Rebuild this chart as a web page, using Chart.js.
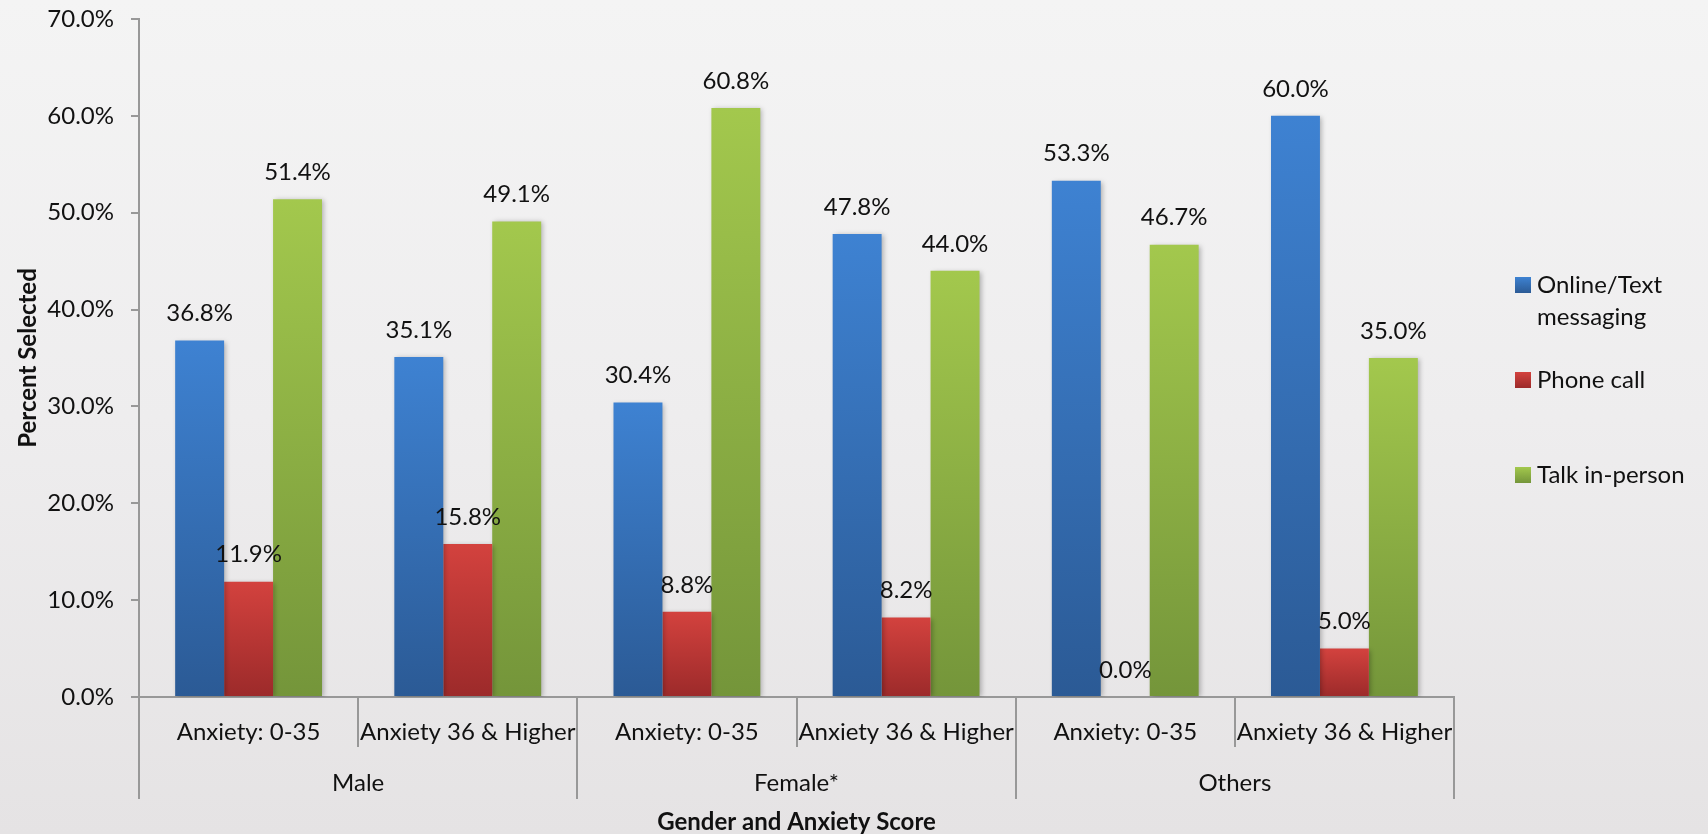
<!DOCTYPE html>
<html>
<head>
<meta charset="utf-8">
<script src="https://cdn.jsdelivr.net/npm/chart.js@4.4.1/dist/chart.umd.min.js"></script>
<style>
  html, body { margin: 0; padding: 0; }
  body {
    width: 1708px; height: 834px; overflow: hidden; position: relative;
    background: linear-gradient(to bottom, #f4f4f4 0%, #eeedee 50%, #e5e3e4 100%);
    font-family: Lato, "Open Sans", sans-serif;
  }
  #chart1 { position: absolute; left: 0; top: 0; }
  #legend { position: absolute; left: 1515px; top: 268px; }
  .item { height: 95px; display: flex; align-items: flex-start; }
  .swatch { width: 16px; height: 16px; margin-top: 9px; margin-right: 6px; flex: none; }
  .text { font-size: 24px; line-height: 32px; color: #111; width: 170px; }
</style>
</head>
<body>
<canvas id="chart1" width="1708" height="834"></canvas>
<div id="legend"></div>
<script>
const subLabels = ['Anxiety: 0-35', 'Anxiety 36 & Higher', 'Anxiety: 0-35', 'Anxiety 36 & Higher', 'Anxiety: 0-35', 'Anxiety 36 & Higher'];
const groupLabels = ['Male', 'Female*', 'Others'];
const seriesNames = ['Online/Text messaging', 'Phone call', 'Talk in-person'];
const onlineText = [36.8, 35.1, 30.4, 47.8, 53.3, 60.0];
const phoneCall = [11.9, 15.8, 8.8, 8.2, 0.0, 5.0];
const talkInPerson = [51.4, 49.1, 60.8, 44.0, 46.7, 35.0];
const yMax = 70;
const yStep = 10;

const fontFamily = 'Lato, "Open Sans", sans-serif';
const axisColor = '#989898';
const textColor = '#111';

// top / bottom colour of each series' vertical gradient
const shades = [
    ['#3e82d2', '#2b5a95'],
    ['#d3423e', '#9c2a2a'],
    ['#a3c84d', '#74953a']
];

function barFill(i) {
    return function (ctx) {
        const chart = ctx.chart;
        const y = chart.scales.y;
        if (!chart.chartArea || !y || ctx.raw === undefined) return shades[i][0];
        const top = y.getPixelForValue(ctx.raw);
        const bottom = y.getPixelForValue(0);
        if (bottom - top < 1) return shades[i][0];
        const g = chart.ctx.createLinearGradient(0, top, 0, bottom);
        g.addColorStop(0, shades[i][0]);
        g.addColorStop(1, shades[i][1]);
        return g;
    };
}

const barShadow = {
    id: 'barShadow',
    beforeDatasetsDraw(chart) {
        const c = chart.ctx;
        c.save();
        c.shadowColor = 'rgba(0,0,0,0.28)';
        c.shadowBlur = 5;
        c.shadowOffsetX = 2;
        c.shadowOffsetY = 1;
    },
    afterDatasetsDraw(chart) {
        chart.ctx.restore();
    }
};

const valueLabels = {
    id: 'valueLabels',
    afterDatasetsDraw(chart) {
        const c = chart.ctx;
        c.save();
        c.font = '24px ' + fontFamily;
        c.fillStyle = textColor;
        c.textAlign = 'center';
        c.textBaseline = 'middle';
        chart.data.datasets.forEach((ds, i) => {
            chart.getDatasetMeta(i).data.forEach((bar, j) => {
                c.fillText(ds.data[j].toFixed(1) + '%', bar.x, bar.y - 27);
            });
        });
        c.restore();
    }
};

const seriesData = [onlineText, phoneCall, talkInPerson];

const chart1 = new Chart('chart1', {
    type: 'bar',
    data: {
        labels: subLabels,
        datasets: seriesData.map((d, i) => ({
            label: seriesNames[i],
            data: d,
            backgroundColor: barFill(i),
            borderWidth: 0,
            categoryPercentage: 0.67,
            barPercentage: 1.0
        }))
    },
    options: {
        responsive: false,
        animation: false,
        layout: { padding: { top: 19, right: 254, bottom: 0, left: 0 } },
        plugins: {
            legend: { display: false },
            tooltip: { enabled: false }
        },
        scales: {
            y: {
                min: 0,
                max: yMax,
                afterFit(scale) {
                    scale.width = 139;
                    scale.paddingTop = 0;
                    scale.paddingBottom = 0;
                },
                ticks: {
                    stepSize: yStep,
                    padding: 17,
                    color: textColor,
                    font: { family: fontFamily, size: 24 },
                    callback: v => v.toFixed(1) + '%'
                },
                grid: { drawOnChartArea: false, tickLength: 8, color: axisColor, lineWidth: 2 },
                border: { color: axisColor, width: 2 },
                title: {
                    display: true,
                    text: 'Percent Selected',
                    color: textColor,
                    font: { family: fontFamily, size: 24, weight: 'bold', lineHeight: 1.2 },
                    padding: { top: 14, bottom: 0 }
                }
            },
            x: {
                offset: true,
                afterFit(scale) { scale.height = 50; },
                ticks: {
                    padding: -29,
                    maxRotation: 0,
                    autoSkip: false,
                    color: textColor,
                    font: { family: fontFamily, size: 24 }
                },
                grid: { offset: true, drawOnChartArea: false, tickLength: 50, color: axisColor, lineWidth: 2 },
                border: { color: axisColor, width: 2 }
            },
            x2: {
                type: 'category',
                position: 'bottom',
                labels: groupLabels,
                offset: true,
                afterFit(scale) { scale.height = 87; },
                ticks: {
                    padding: -30,
                    maxRotation: 0,
                    autoSkip: false,
                    color: textColor,
                    font: { family: fontFamily, size: 24 }
                },
                grid: { offset: true, drawOnChartArea: false, tickLength: 52, color: axisColor, lineWidth: 2 },
                border: { display: false },
                title: {
                    display: true,
                    text: 'Gender and Anxiety Score',
                    color: textColor,
                    font: { family: fontFamily, size: 24, weight: 'bold', lineHeight: 1.0 },
                    padding: { top: 0, bottom: 0 }
                }
            }
        }
    },
    plugins: [barShadow, valueLabels]
});

// legend on the right, built from the datasets
const legend = document.getElementById('legend');
chart1.data.datasets.forEach((ds, i) => {
    const item = document.createElement('div');
    item.className = 'item';
    const sw = document.createElement('div');
    sw.className = 'swatch';
    sw.style.background = 'linear-gradient(to bottom, ' + shades[i][0] + ', ' + shades[i][1] + ')';
    const tx = document.createElement('div');
    tx.className = 'text';
    tx.textContent = ds.label;
    item.appendChild(sw);
    item.appendChild(tx);
    legend.appendChild(item);
});
</script>
</body>
</html>
